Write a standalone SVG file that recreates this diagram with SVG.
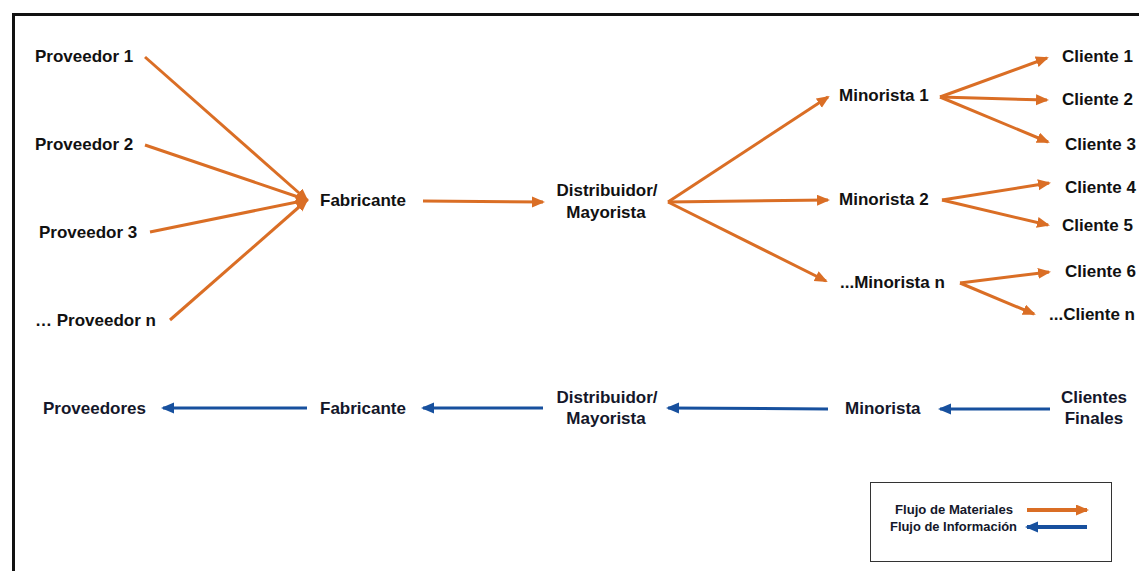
<svg xmlns="http://www.w3.org/2000/svg" width="1139" height="571" viewBox="0 0 1139 571">
<style>
.t{font-family:"Liberation Sans",Arial,sans-serif;font-weight:bold;font-size:17px;fill:#111}
.b{font-family:"Liberation Sans",Arial,sans-serif;font-weight:bold;font-size:17px;fill:#14172a}
.lg{font-family:"Liberation Sans",Arial,sans-serif;font-weight:bold;font-size:13px;fill:#14172a}
.o{stroke:#DA6E25;stroke-width:3;fill:none;marker-end:url(#ao)}
.u{stroke:#17509E;stroke-width:3;fill:none;marker-end:url(#au)}
.w{stroke-width:4}
</style>
<defs>
<marker id="ao" markerUnits="userSpaceOnUse" markerWidth="14" markerHeight="12" refX="11" refY="5.5" orient="auto"><path d="M0,0 L13,5.5 L0,11 z" fill="#DA6E25"/></marker>
<marker id="au" markerUnits="userSpaceOnUse" markerWidth="14" markerHeight="12" refX="11" refY="5.5" orient="auto"><path d="M0,0 L13,5.5 L0,11 z" fill="#17509E"/></marker>
</defs>
<rect width="1139" height="571" fill="#fff"/>
<path d="M13.5,571 V14.5 H1139" fill="none" stroke="#111" stroke-width="3"/>
<g id="connectors">
<line class="o" x1="145" y1="57" x2="307" y2="200"/>
<line class="o" x1="145" y1="145" x2="307" y2="200"/>
<line class="o" x1="150" y1="232" x2="307" y2="200"/>
<line class="o" x1="170" y1="320" x2="307" y2="200"/>
<line class="o" x1="423" y1="201" x2="543" y2="202"/>
<line class="o" x1="668" y1="202" x2="828" y2="97"/>
<line class="o" x1="668" y1="202" x2="828" y2="200"/>
<line class="o" x1="668" y1="202" x2="826" y2="281"/>
<line class="o" x1="940" y1="97" x2="1047" y2="58"/>
<line class="o" x1="940" y1="97" x2="1047" y2="100"/>
<line class="o" x1="940" y1="97" x2="1048" y2="142"/>
<line class="o" x1="942" y1="200" x2="1049" y2="183"/>
<line class="o" x1="942" y1="200" x2="1048" y2="225"/>
<line class="o" x1="960" y1="283" x2="1049" y2="272"/>
<line class="o" x1="960" y1="283" x2="1034" y2="314"/>
<line class="u" x1="307" y1="408" x2="163" y2="408"/>
<line class="u" x1="543" y1="408" x2="423" y2="408"/>
<line class="u" x1="828" y1="409" x2="668" y2="408"/>
<line class="u" x1="1050" y1="409" x2="940" y2="409"/>
</g>
<g id="proveedor1"><text class="t" x="35" y="62">Proveedor 1</text></g>
<g id="proveedor2"><text class="t" x="35" y="150">Proveedor 2</text></g>
<g id="proveedor3"><text class="t" x="39" y="238">Proveedor 3</text></g>
<g id="proveedorn"><text class="t" x="35" y="326">… Proveedor n</text></g>
<g id="fabricante"><text class="t" x="320" y="206">Fabricante</text></g>
<g id="distribuidor"><text class="t" x="607" y="196" text-anchor="middle">Distribuidor/</text><text class="t" x="606" y="218" text-anchor="middle">Mayorista</text></g>
<g id="minorista1"><text class="t" x="839" y="101">Minorista 1</text></g>
<g id="minorista2"><text class="t" x="839" y="205">Minorista 2</text></g>
<g id="minoristan"><text class="t" x="840" y="288">...Minorista n</text></g>
<g id="cliente1"><text class="t" x="1062" y="62">Cliente 1</text></g>
<g id="cliente2"><text class="t" x="1062" y="105">Cliente 2</text></g>
<g id="cliente3"><text class="t" x="1065" y="150">Cliente 3</text></g>
<g id="cliente4"><text class="t" x="1065" y="193">Cliente 4</text></g>
<g id="cliente5"><text class="t" x="1062" y="231">Cliente 5</text></g>
<g id="cliente6"><text class="t" x="1065" y="277">Cliente 6</text></g>
<g id="clienten"><text class="t" x="1049" y="320">...Cliente n</text></g>
<g id="i-proveedores"><text class="b" x="43" y="414">Proveedores</text></g>
<g id="i-fabricante"><text class="b" x="320" y="414">Fabricante</text></g>
<g id="i-distribuidor"><text class="b" x="607" y="403" text-anchor="middle">Distribuidor/</text><text class="b" x="606" y="424" text-anchor="middle">Mayorista</text></g>
<g id="i-minorista"><text class="b" x="845" y="414">Minorista</text></g>
<g id="i-clientes"><text class="b" x="1094" y="403" text-anchor="middle">Clientes</text><text class="b" x="1094" y="424" text-anchor="middle">Finales</text></g>
<g id="legend">
<rect x="870.5" y="482.5" width="241" height="79" fill="#fff" stroke="#333" stroke-width="1"/>
<text class="lg" x="895" y="514" textLength="118" lengthAdjust="spacingAndGlyphs">Flujo de Materiales</text>
<text class="lg" x="890" y="531" textLength="127" lengthAdjust="spacingAndGlyphs">Flujo de Información</text>
<line class="o w" x1="1027" y1="510" x2="1087" y2="510"/>
<line class="u w" x1="1087" y1="527" x2="1027" y2="527"/>
</g>
</svg>
